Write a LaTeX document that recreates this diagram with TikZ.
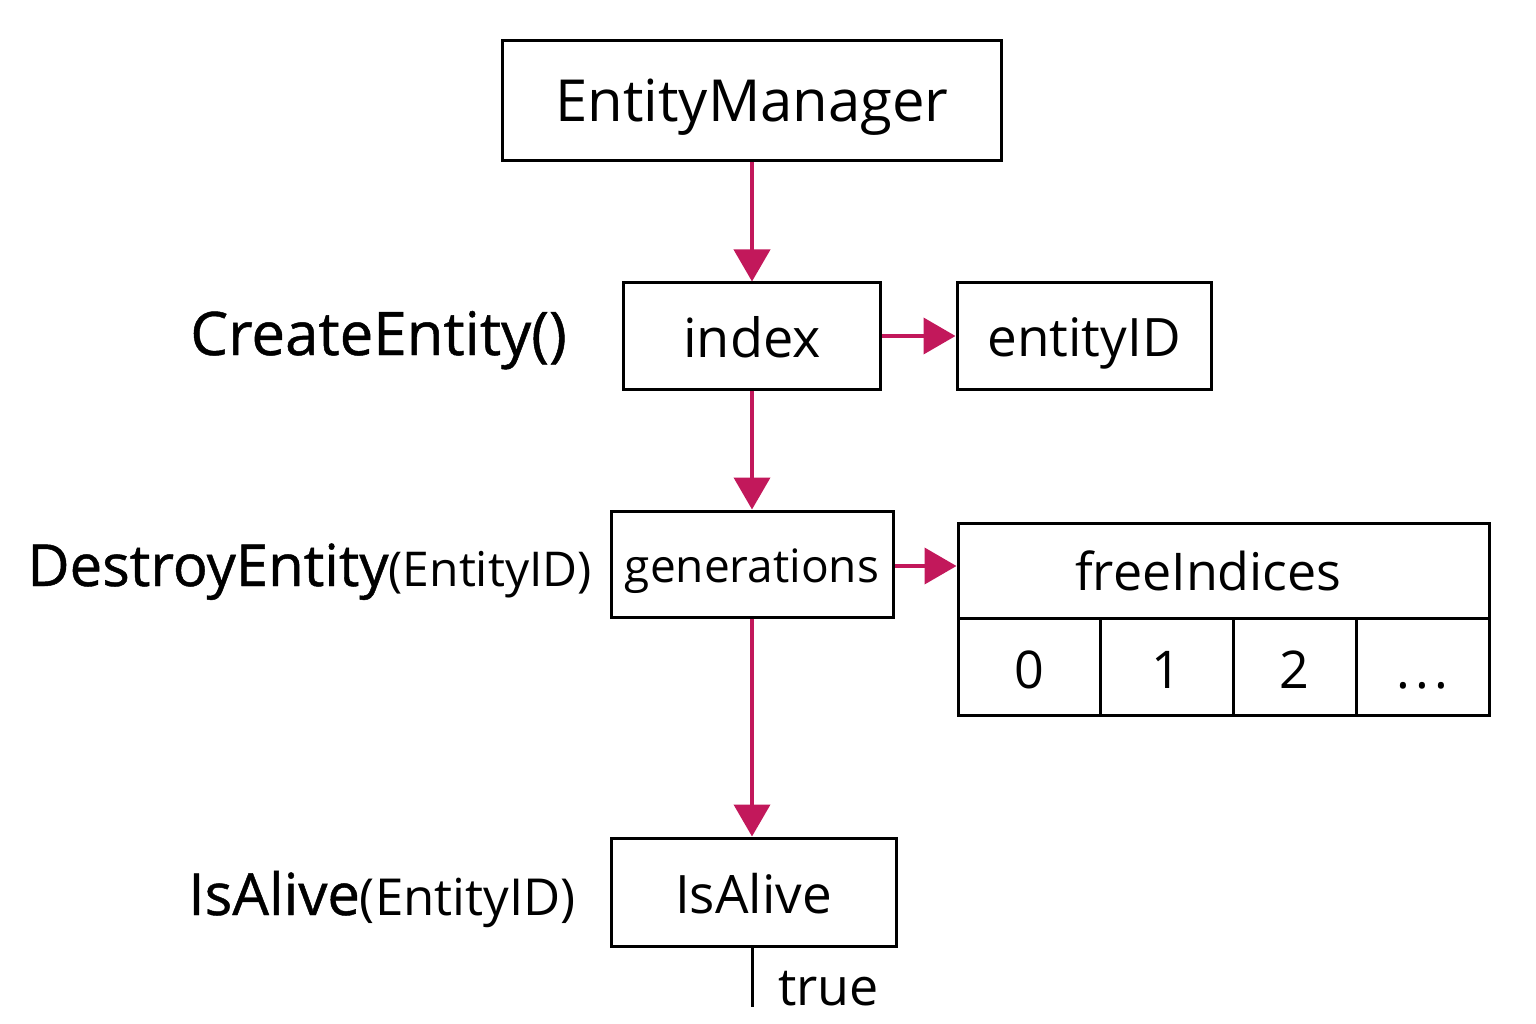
\documentclass[tikz,border=0pt]{standalone}
\usepackage{fontspec}
\setmainfont{Open Sans}
\newfontfamily\lblfont{Open Sans}[FakeBold=0.8]
\usetikzlibrary{arrows.meta}
\definecolor{crim}{HTML}{C2185B}
\begin{document}
\begin{tikzpicture}[x=1pt,y=-1pt,
  box/.style={draw=black,line width=3pt,inner sep=0pt,rectangle,text depth=0pt},
  bl/.style={text height=#1},
  arr/.style={draw=crim,line width=4pt,-{Triangle[length=32pt,width=36pt]}},
  lbl/.style={inner sep=0pt,anchor=base east},
  fs/.style={font=\fontsize{#1}{#1}\selectfont}]
\useasboundingbox (0,0) rectangle (1536,1024);
\node[box,bl=42pt,minimum width=499pt,minimum height=120pt,fs=58] (em) at (752,101) {EntityManager};
\node[box,bl=42pt,minimum width=257pt,minimum height=106pt,fs=54] (idx) at (752,336) {index};
\node[box,bl=40pt,minimum width=254pt,minimum height=106pt,fs=53] (eid) at (1084,336) {entityID};
\node[box,bl=36pt,minimum width=282pt,minimum height=106pt,fs=46] (gen) at (752,564) {generations};
\node[box,bl=39pt,minimum width=531pt,minimum height=95pt,fs=52] (fi) at (1223.5,570.5) {freeIndices\kern30pt\relax};
\node[box,bl=43pt,minimum width=142pt,minimum height=97pt,fs=52] (c0) at (1029,666.5) {0};
\node[box,bl=43pt,minimum width=133pt,minimum height=97pt,fs=52] (c1) at (1166.5,666.5) {1};
\node[box,bl=43pt,minimum width=123pt,minimum height=97pt,fs=52] (c2) at (1294.5,666.5) {2};
\node[box,bl=43pt,minimum width=133pt,minimum height=97pt,fs=52] (c3) at (1422.5,666.5) {.\hspace{5pt}.\hspace{5pt}.};
\node[box,bl=42pt,minimum width=285pt,minimum height=108pt,fs=53] (alive) at (753.5,892) {IsAlive};
\coordinate (tend) at (752,1007);
\node[inner sep=0pt,anchor=base west,fs=52] (true) at (778,1005) {true};

\node[lbl,fs=60] (lc) at (567,355) {\lblfont CreateEntity()};
\node[lbl] (ld) at (592,586) {{\lblfont\fontsize{58}{58}\selectfont DestroyEntity}{\fontsize{48}{48}\selectfont(EntityID)}};
\node[lbl] (la) at (576,915) {{\lblfont\fontsize{58}{58}\selectfont IsAlive}{\fontsize{51}{51}\selectfont(EntityID)}};

\draw[arr] (em.south) -- (idx.north);
\draw[arr] (idx.east) -- (eid.west);
\draw[arr] (idx.south) -- (gen.north);
\draw[arr] ([yshift=-2pt]gen.east) -- ([yshift=-2pt]gen.east -| fi.west);
\draw[arr] (gen.south) -- (gen.south |- alive.north);
\draw[line width=3pt] (gen.south |- alive.south) -- (tend);
\end{tikzpicture}
\end{document}
